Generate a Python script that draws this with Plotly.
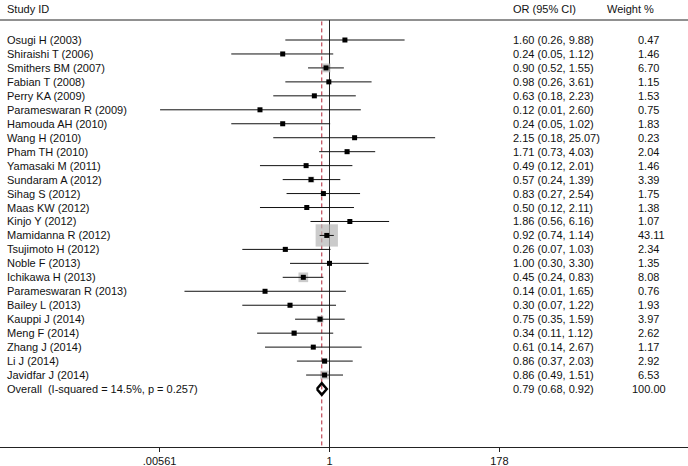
import math
import plotly.graph_objects as go

# ---------------- data ----------------
studies = ["Osugi H (2003)", "Shiraishi T (2006)", "Smithers BM (2007)", "Fabian T (2008)",
           "Perry KA (2009)", "Parameswaran R (2009)", "Hamouda AH (2010)", "Wang H (2010)",
           "Pham TH (2010)", "Yamasaki M (2011)", "Sundaram A (2012)", "Sihag S (2012)",
           "Maas KW (2012)", "Kinjo Y (2012)", "Mamidanna R (2012)", "Tsujimoto H (2012)",
           "Noble F (2013)", "Ichikawa H (2013)", "Parameswaran R (2013)", "Bailey L (2013)",
           "Kauppi J (2014)", "Meng F (2014)", "Zhang J (2014)", "Li J (2014)", "Javidfar J (2014)"]
odds_ratio = [1.60, 0.24, 0.90, 0.98, 0.63, 0.12, 0.24, 2.15, 1.71, 0.49, 0.57, 0.83, 0.50,
              1.86, 0.92, 0.26, 1.00, 0.45, 0.14, 0.30, 0.75, 0.34, 0.61, 0.86, 0.86]
ci_lower = [0.26, 0.05, 0.52, 0.26, 0.18, 0.0057, 0.05, 0.18, 0.73, 0.12, 0.24, 0.27, 0.12,
            0.56, 0.74, 0.07, 0.30, 0.24, 0.012, 0.07, 0.35, 0.11, 0.14, 0.37, 0.49]
ci_upper = [9.88, 1.12, 1.55, 3.61, 2.23, 2.60, 1.02, 25.07, 4.03, 2.01, 1.39, 2.54, 2.11,
            6.16, 1.14, 1.03, 3.30, 0.83, 1.65, 1.22, 1.59, 1.12, 2.67, 2.03, 1.51]
weight_pct = [0.47, 1.46, 6.70, 1.15, 1.53, 0.75, 1.83, 0.23, 2.04, 1.46, 3.39, 1.75, 1.38,
              1.07, 43.11, 2.34, 1.35, 8.08, 0.76, 1.93, 3.97, 2.62, 1.17, 2.92, 6.53]
overall_label = "Overall  (I-squared = 14.5%, p = 0.257)"
overall_or, overall_lo, overall_hi, overall_weight = 0.79, 0.68, 0.92, 100.00
x_tick_vals = [0.00561, 1, 178]
x_tick_text = [".00561", "1", "178"]
headers = ["Study ID", "OR (95% CI)", "Weight %"]

# ---------------- layout constants (pixels) ----------------
W, H = 688, 466
AXIS_PX = 447          # x-axis line
ROW0_PX = 40           # first study row
ROW_STEP = 13.96       # spacing between rows
HEAD_LINE_PX = 20      # line under header
HEAD_TEXT_PX = 9
X_ONE_PX = 329.5       # pixel position of OR = 1
PX_PER_DECADE = 75.5
COL_STUDY = 5
COL_CI = 511
COL_W_HEAD = 605
COL_W = 636

FONT = "Arial, Liberation Sans, sans-serif"
TXT = "#111111"

def row_of_px(p):
    return (p - ROW0_PX) / ROW_STEP

n = len(studies)
rows = list(range(n))
overall_row = n

x_range = [(0 - X_ONE_PX) / PX_PER_DECADE, (W - X_ONE_PX) / PX_PER_DECADE]
y_range = [row_of_px(AXIS_PX), row_of_px(0)]
head_line_row = row_of_px(HEAD_LINE_PX)
axis_row = row_of_px(AXIS_PX)

fig = go.Figure()

# reference line at OR = 1
fig.add_trace(go.Scatter(x=[1, 1], y=[head_line_row, axis_row], mode="lines",
                         line=dict(color="#222222", width=1), hoverinfo="skip"))
# dashed line at overall estimate
fig.add_trace(go.Scatter(x=[overall_or, overall_or], y=[head_line_row + 0.1, axis_row], mode="lines",
                         line=dict(color="#b22234", width=1, dash="4px,3px"), hoverinfo="skip"))

# grey weight boxes
box_sizes = [3.4 * math.sqrt(w) for w in weight_pct]
fig.add_trace(go.Scatter(x=odds_ratio, y=rows, mode="markers",
                         marker=dict(symbol="square", size=box_sizes, color="#b5b5b5",
                                     line=dict(width=0)), hoverinfo="skip"))

# confidence interval lines
cx, cy = [], []
for lo, hi, r in zip(ci_lower, ci_upper, rows):
    cx += [lo, hi, None]
    cy += [r, r, None]
fig.add_trace(go.Scatter(x=cx, y=cy, mode="lines", line=dict(color="#111111", width=1),
                         hoverinfo="skip"))

# point estimates
fig.add_trace(go.Scatter(x=odds_ratio, y=rows, mode="markers",
                         marker=dict(symbol="square", size=5, color="#000000", line=dict(width=0)),
                         hoverinfo="skip"))

# overall diamond
h = 0.42
fig.add_trace(go.Scatter(x=[overall_lo, overall_or, overall_hi, overall_or, overall_lo],
                         y=[overall_row, overall_row - h, overall_row, overall_row + h, overall_row],
                         mode="lines", line=dict(color="#000000", width=2.5), hoverinfo="skip"))

annotations = []
def txt(xpx, row, s):
    annotations.append(dict(x=xpx / W, xref="paper", y=row, yref="y", text=s, showarrow=False,
                            xanchor="left", yanchor="middle",
                            font=dict(family=FONT, size=11, color=TXT)))

head_row = row_of_px(HEAD_TEXT_PX)
txt(COL_STUDY, head_row, headers[0])
txt(COL_CI, head_row, headers[1])
txt(COL_W_HEAD, head_row, headers[2])

for i in range(n):
    txt(COL_STUDY, rows[i], studies[i])
    txt(COL_CI, rows[i], f"{odds_ratio[i]:.2f} ({ci_lower[i]:.2f}, {ci_upper[i]:.2f})")
    txt(COL_W, rows[i], f"{weight_pct[i]:.2f}")
txt(COL_STUDY, overall_row, overall_label)
txt(COL_CI, overall_row, f"{overall_or:.2f} ({overall_lo:.2f}, {overall_hi:.2f})")
txt(COL_W - 6, overall_row, f"{overall_weight:.2f}")

fig.update_layout(
    width=W, height=H,
    margin=dict(l=0, r=0, t=0, b=H - AXIS_PX),
    paper_bgcolor="white", plot_bgcolor="white",
    showlegend=False,
    annotations=annotations,
    shapes=[dict(type="line", xref="paper", x0=0, x1=1, yref="y", y0=head_line_row, y1=head_line_row,
                 line=dict(color="#222222", width=1))],
    xaxis=dict(type="log", range=x_range, showgrid=False, zeroline=False,
               showline=True, linecolor="#222222", linewidth=1,
               ticks="outside", ticklen=4, tickcolor="#222222",
               tickvals=x_tick_vals, ticktext=x_tick_text,
               tickfont=dict(family=FONT, size=11, color=TXT), automargin=False),
    yaxis=dict(range=y_range, visible=False, showgrid=False, zeroline=False, automargin=False),
)

fig.write_html("out.html", config={"displayModeBar": False},
               post_script="document.body.style.margin='0';document.body.style.overflow='hidden';")
